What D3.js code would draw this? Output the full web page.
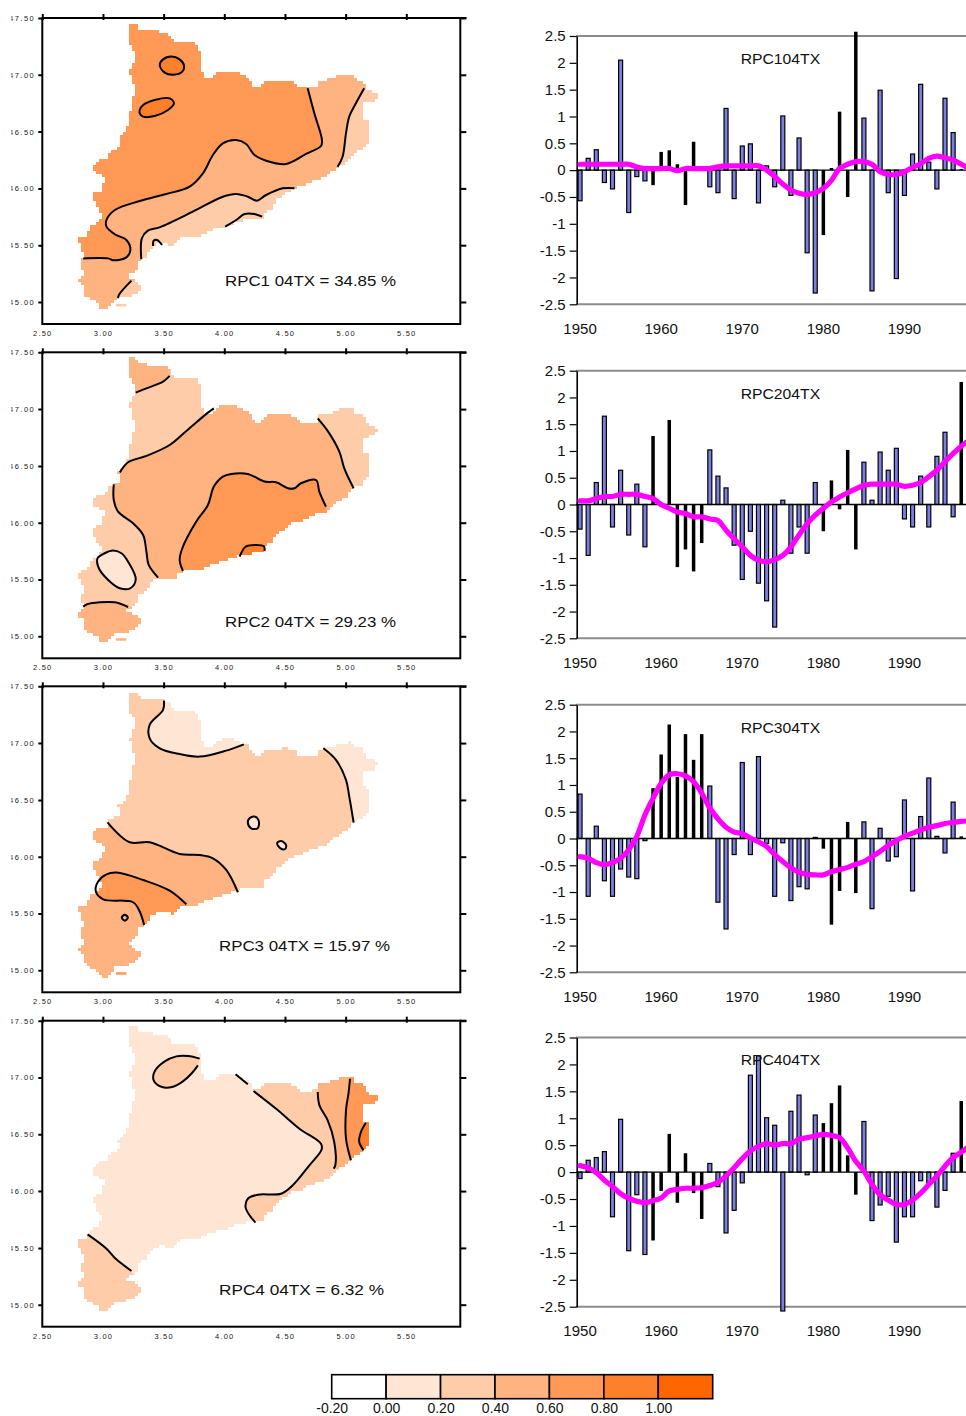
<!DOCTYPE html>
<html>
<head>
<meta charset="utf-8">
<script src="https://cdn.jsdelivr.net/npm/d3@7"></script>
<style>
  html, body { margin: 0; padding: 0; background: #fff; }
  svg { display: block; }
  text { font-family: "Liberation Sans", Arial, sans-serif; }
</style>
</head>
<body>
<div id="chart"></div>
<script>
// colour classes of the maps
const legendLevels = [-0.2, 0, 0.2, 0.4, 0.6, 0.8, 1.0, 1.2];
const levelColors = ['#ffffff', '#ffe5d4', '#ffcca9', '#ffb380', '#ff9955', '#ff802b', '#ff6600'];

// map outline, [lon, lat]
const outline = [[3.226,17.447],[3.270,17.447],[3.303,17.400],[3.385,17.389],[3.522,17.374],[3.555,17.342],[3.583,17.283],[3.755,17.283],[3.791,17.233],[3.807,17.145],[3.810,17.072],[3.829,16.969],[3.892,16.969],[3.934,17.007],[3.975,17.036],[4.071,17.036],[4.131,17.007],[4.194,16.978],[4.249,16.890],[4.290,16.890],[4.345,16.948],[4.509,16.954],[4.591,16.925],[4.619,16.881],[4.687,16.881],[4.770,16.890],[4.778,16.948],[4.866,16.960],[4.948,17.001],[5.052,17.007],[5.071,16.960],[5.153,16.954],[5.159,16.872],[5.249,16.843],[5.263,16.822],[5.244,16.764],[5.153,16.755],[5.140,16.617],[5.189,16.596],[5.200,16.529],[5.194,16.411],[5.140,16.338],[5.071,16.309],[5.003,16.221],[4.920,16.177],[4.852,16.103],[4.715,16.059],[4.646,16.015],[4.564,16.001],[4.482,15.927],[4.427,15.898],[4.400,15.825],[4.345,15.804],[4.317,15.737],[4.167,15.722],[4.043,15.678],[3.906,15.634],[3.796,15.581],[3.646,15.569],[3.577,15.493],[3.509,15.517],[3.454,15.511],[3.399,15.473],[3.358,15.399],[3.303,15.370],[3.276,15.282],[3.193,15.223],[3.262,15.194],[3.325,15.129],[3.262,15.062],[3.180,15.032],[3.111,15.032],[3.084,15.003],[3.043,14.944],[2.988,14.944],[2.947,15.003],[2.859,15.047],[2.837,15.150],[2.777,15.179],[2.837,15.238],[2.823,15.370],[2.851,15.399],[2.810,15.502],[2.796,15.569],[2.870,15.581],[2.892,15.663],[2.974,15.707],[2.988,15.781],[2.933,15.869],[2.919,15.957],[2.988,15.986],[3.015,16.103],[2.919,16.147],[2.914,16.206],[2.960,16.250],[3.043,16.265],[3.051,16.323],[3.139,16.367],[3.125,16.455],[3.193,16.514],[3.221,16.661],[3.262,16.866],[3.221,17.042],[3.276,17.174],[3.221,17.277],[3.207,17.365]];
const islet = [[3.106,14.983],[3.193,14.983],[3.193,14.961],[3.106,14.961]];

// RPC1 contours
const c1a = [[3.468,17.086],[3.495,17.136],[3.564,17.160],[3.632,17.136],[3.668,17.080],[3.654,17.028],[3.577,17.001],[3.509,17.019]];
const c1b = [[3.303,16.690],[3.331,16.734],[3.426,16.778],[3.550,16.793],[3.585,16.749],[3.536,16.690],[3.426,16.637],[3.331,16.632],[3.303,16.661]];
const c1c = [[2.837,15.384],[3.043,15.384],[3.084,15.367],[3.193,15.393],[3.226,15.458],[3.193,15.546],[3.098,15.596],[3.029,15.663],[3.029,15.722],[3.098,15.810],[3.303,15.889],[3.522,15.951],[3.714,16.015],[3.824,16.133],[3.906,16.294],[3.988,16.397],[4.098,16.426],[4.180,16.391],[4.249,16.294],[4.345,16.244],[4.509,16.215],[4.674,16.303],[4.797,16.373],[4.805,16.426],[4.742,16.661],[4.687,16.881]];
const c1d = [[3.316,15.376],[3.321,15.561],[3.370,15.628],[3.466,15.657],[3.741,15.795],[3.988,15.927],[4.098,15.951],[4.194,15.927],[4.268,15.892],[4.345,15.942],[4.482,16.001],[4.578,16.001]];
const c1e = [[4.934,16.191],[4.975,16.279],[5.003,16.485],[5.030,16.632],[5.085,16.749],[5.153,16.881]];
const c1f = [[4.007,15.663],[4.098,15.722],[4.167,15.775],[4.249,15.775],[4.312,15.751]];
const c1g = [[3.413,15.493],[3.418,15.540],[3.446,15.546],[3.487,15.502]];
const c1h = [[3.125,15.032],[3.131,15.062],[3.235,15.188]];

// RPC2 contours
const c2a = [[3.270,17.145],[3.358,17.183],[3.495,17.242],[3.550,17.292]];
const c2b = [[3.139,16.441],[3.207,16.532],[3.358,16.588],[3.550,16.684],[3.687,16.808],[3.865,16.969],[3.914,17.007]];
const c2c = [[3.089,16.338],[3.089,16.200],[3.125,16.097],[3.248,15.995],[3.331,15.892],[3.358,15.745],[3.377,15.628],[3.454,15.517]];
const c2d = [[2.837,15.261],[2.870,15.282],[2.974,15.299],[3.098,15.299],[3.207,15.258]];
const c2e = [[2.955,15.687],[2.988,15.716],[3.070,15.754],[3.152,15.731],[3.207,15.657],[3.270,15.502],[3.226,15.423],[3.139,15.423],[3.043,15.496],[2.966,15.599]];
const c2f = [[4.770,16.919],[4.852,16.808],[4.948,16.626],[4.989,16.479],[5.066,16.303]];
const c2g = [[3.659,15.575],[3.632,15.672],[3.654,15.775],[3.769,16.010],[3.865,16.156],[3.914,16.318],[3.988,16.406],[4.057,16.429],[4.194,16.429],[4.331,16.362],[4.427,16.356],[4.523,16.303],[4.578,16.303],[4.632,16.347],[4.756,16.376],[4.783,16.274],[4.838,16.142]];
const c2h = [[4.126,15.701],[4.153,15.760],[4.180,15.792],[4.326,15.792],[4.331,15.751]];

// RPC3 contours
const c3a = [[3.503,17.374],[3.495,17.292],[3.385,17.160],[3.385,17.042],[3.468,16.954],[3.632,16.904],[3.797,16.881],[4.016,16.934],[4.161,16.989]];
const c3b = [[4.816,16.954],[4.920,16.852],[5.003,16.676],[5.030,16.529],[5.066,16.300]];
const c3c = [[4.194,16.300],[4.208,16.338],[4.249,16.353],[4.282,16.323],[4.276,16.250],[4.221,16.250]];
const c3d = [[4.435,16.118],[4.468,16.139],[4.509,16.103],[4.501,16.068],[4.463,16.074]];
const c3e = [[3.037,16.303],[3.221,16.127],[3.385,16.127],[3.632,16.024],[3.797,16.015],[3.906,15.986],[4.016,15.883],[4.112,15.687]];
const c3f = [[3.687,15.581],[3.550,15.701],[3.331,15.795],[3.111,15.860],[3.029,15.845],[2.960,15.781],[2.941,15.693],[3.002,15.625],[3.248,15.599],[3.303,15.517],[3.339,15.399]];
const c3g = [[3.155,15.464],[3.180,15.490],[3.205,15.464],[3.180,15.437]];

// RPC4 contours
const c4a = [[3.797,17.166],[3.701,17.189],[3.605,17.186],[3.509,17.142],[3.426,17.054],[3.418,16.975],[3.487,16.916],[3.577,16.919],[3.659,16.966],[3.728,17.033],[3.783,17.107]];
const c4b = [[4.093,17.028],[4.194,16.940]];
const c4c = [[4.241,16.881],[4.427,16.725],[4.619,16.549],[4.797,16.417],[4.802,16.367],[4.701,16.227],[4.564,16.051],[4.468,15.977],[4.276,15.968],[4.194,15.933],[4.175,15.860],[4.208,15.787],[4.257,15.722]];
const c4d = [[4.770,16.872],[4.784,16.755],[4.852,16.623],[4.906,16.432],[4.915,16.227],[4.901,16.197]];
const c4e = [[5.036,16.989],[5.025,16.872],[5.003,16.711],[5.003,16.461],[5.025,16.344],[5.044,16.271]];
const c4f = [[5.167,16.602],[5.126,16.520],[5.112,16.432],[5.148,16.359]];
const c4g = [[2.873,15.619],[3.029,15.493],[3.098,15.411],[3.235,15.297]];

const mapTitles = ['RPC1 04TX = 34.85 %', 'RPC2 04TX = 29.23 %', 'RPC3 04TX = 15.97 %', 'RPC4 04TX = 6.32 %'];
const mapBase = [3, 3, 2, 1];
const isletLevel = [2, 3, 4, null];

// fills: level, contour, points that close it outside the outline
const mapRegions = [
  [
    { level: 4, line: c1c, tail: [[4.687,17.6],[2.5,17.6],[2.5,15.384]] },
    { level: 5, line: c1a, closed: true },
    { level: 5, line: c1b, closed: true },
    { level: 2, line: c1d, tail: [[4.6,15.3],[3.45,15.3]] },
    { level: 2, line: c1e, tail: [[5.4,16.881],[5.4,16.1],[4.934,16.1]] },
    { level: 2, line: c1h, tail: [[3.5,15.188],[3.5,15.0],[3.125,15.0]] }
  ],
  [
    { level: 2, line: c2b, tail: [[3.914,17.6],[2.5,17.6],[2.5,16.441]] },
    { level: 2, line: c2c, tail: [[3.454,15.2],[2.5,15.2],[2.5,16.45],[3.089,16.45]] },
    { level: 3, line: c2a, tail: [[3.55,17.6],[3.1,17.6],[3.1,17.145]] },
    { level: 3, line: c2d, tail: [[3.5,15.258],[3.5,14.9],[2.6,14.9],[2.6,15.261]] },
    { level: 1, line: c2e, closed: true },
    { level: 2, line: c2f, tail: [[5.4,16.303],[5.4,17.1],[4.77,17.1]] },
    { level: 4, line: c2g, tail: [[4.9,15.5],[3.659,15.4]] },
    { level: 5, line: c2h, tail: [[4.331,15.5],[4.126,15.5]] }
  ],
  [
    { level: 1, line: c3a, tail: [[4.161,17.6],[3.503,17.6]] },
    { level: 1, line: c3b, tail: [[5.4,16.3],[5.4,17.1],[4.816,17.1]] },
    { level: 1, line: c3c, closed: true },
    { level: 1, line: c3d, closed: true },
    { level: 3, line: c3e, tail: [[4.2,14.9],[2.5,14.9],[2.5,16.303]] },
    { level: 4, line: c3f, tail: [[3.6,15.3],[3.75,15.5]] }
  ],
  [
    { level: 2, line: c4c, tail: [[4.5,15.6],[5.4,15.6],[5.4,17.2],[4.241,17.2]] },
    { level: 3, line: c4d, tail: [[5.4,16.197],[5.4,17.2],[4.77,17.2]] },
    { level: 4, line: c4e, tail: [[5.4,16.271],[5.4,17.2],[5.036,17.2]] },
    { level: 5, line: c4f, tail: [[5.4,16.3],[5.4,16.602]] },
    { level: 2, line: c4a, tail: [] },
    { level: 2, line: c4g, tail: [[3.5,14.9],[2.6,14.9],[2.6,15.619]] }
  ]
];

// contour lines of each map
const mapLines = [
  [{ pts: c1a, closed: true }, { pts: c1b, closed: true }, { pts: c1c }, { pts: c1d }, { pts: c1e }, { pts: c1f }, { pts: c1g }, { pts: c1h }],
  [{ pts: c2a }, { pts: c2b }, { pts: c2c }, { pts: c2d }, { pts: c2e, closed: true }, { pts: c2f }, { pts: c2g }, { pts: c2h }],
  [{ pts: c3a }, { pts: c3b }, { pts: c3c, closed: true }, { pts: c3d, closed: true }, { pts: c3e }, { pts: c3f }, { pts: c3g, closed: true }],
  [{ pts: c4a }, { pts: c4b }, { pts: c4c }, { pts: c4d }, { pts: c4e }, { pts: c4f }, { pts: c4g }]
];

const lonTicks = [2.5, 3, 3.5, 4, 4.5, 5, 5.5];
const latTicks = [15, 15.5, 16, 16.5, 17, 17.5];

// time series
const barYears = d3.range(1950, 1998);
const lineYears = d3.range(1950, 1999);
const darkYears = [1959, 1960, 1961, 1962, 1963, 1964, 1965, 1980, 1981, 1982, 1983, 1984, 1997];
const yearTicks = [1950, 1960, 1970, 1980, 1990];
const valueTicks = [-2.5, -2, -1.5, -1, -0.5, 0, 0.5, 1, 1.5, 2, 2.5];
const seriesTitles = ['RPC104TX', 'RPC204TX', 'RPC304TX', 'RPC404TX'];

const rpc1Bars = [-0.57,0.22,0.38,-0.23,-0.35,2.05,-0.79,-0.12,-0.2,-0.28,0.34,0.37,0.11,-0.65,0.53,0.02,-0.31,-0.42,1.15,-0.53,0.45,0.49,-0.61,0.08,-0.31,1.01,-0.47,0.6,-1.54,-2.29,-1.21,0.04,1.09,-0.5,2.58,0.97,-2.25,1.49,-0.42,-2.02,-0.47,0.3,1.6,0.15,-0.35,1.34,0.7,0.02];
const rpc2Bars = [-0.46,-0.95,0.41,1.65,-0.42,0.64,-0.57,0.38,-0.79,1.28,-0.04,1.58,-1.17,-0.84,-1.25,-0.72,1.02,0.53,0.31,-0.76,-1.4,-0.5,-1.47,-1.8,-2.29,0.08,-0.91,-0.42,-0.91,0.41,-0.5,0.45,-0.09,1.02,-0.84,0.79,0.08,0.98,0.64,1.05,-0.27,-0.42,0.53,-0.42,0.9,1.35,-0.23,2.29];
const rpc3Bars = [0.83,-1.08,0.23,-0.79,-1.08,-0.57,-0.72,-0.75,-0.04,0.94,1.57,2.13,1.15,1.95,1.47,1.95,0.98,-1.19,-1.69,-0.3,1.42,-0.3,1.53,-0.09,-1.08,-0.08,-1.16,-0.9,-0.94,0.02,-0.19,-1.61,-0.98,0.31,-1.02,0.31,-1.31,0.19,-0.42,-0.34,0.72,-0.98,0.41,1.13,0.04,-0.27,0.68,0.04];
const rpc4Bars = [-0.12,0.22,0.27,0.38,-0.83,0.98,-1.46,-0.42,-1.53,-1.27,-0.35,0.71,-0.57,0.35,-0.39,-0.87,0.16,-0.27,-1.13,-0.71,-0.2,1.8,2.16,1.01,0.87,-2.58,1.13,1.43,-0.05,1.06,0.91,1.28,1.61,0.31,-0.42,0.94,-0.9,-0.61,-0.45,-1.3,-0.83,-0.83,-0.16,-0.2,-0.65,-0.34,0.35,1.32];

const rpc1Smooth = [0.11,0.11,0.11,0.11,0.11,0.11,0.11,0.06,0.03,0.03,0.03,0.03,-0.01,0.03,0.03,0.03,0.03,0.06,0.08,0.08,0.08,0.08,0.08,0,-0.12,-0.26,-0.37,-0.43,-0.45,-0.42,-0.34,-0.19,0.03,0.11,0.16,0.16,0.11,-0.03,-0.08,-0.08,-0.03,0.05,0.12,0.22,0.26,0.23,0.19,0.11,0.03];
const rpc2Smooth = [0.07,0.07,0.11,0.15,0.15,0.19,0.19,0.19,0.15,0.11,0,-0.07,-0.14,-0.17,-0.23,-0.23,-0.27,-0.3,-0.48,-0.64,-0.79,-0.95,-1.04,-1.07,-1.03,-0.95,-0.79,-0.57,-0.36,-0.2,-0.07,0.05,0.14,0.22,0.29,0.36,0.38,0.38,0.38,0.38,0.34,0.36,0.41,0.52,0.64,0.8,0.95,1.09,1.2];
const rpc3Smooth = [-0.34,-0.37,-0.45,-0.49,-0.45,-0.37,-0.21,0.04,0.44,0.75,1.03,1.19,1.21,1.17,1.06,0.85,0.57,0.37,0.21,0.12,0.09,0.01,-0.06,-0.15,-0.3,-0.43,-0.55,-0.63,-0.67,-0.68,-0.68,-0.62,-0.58,-0.54,-0.48,-0.43,-0.34,-0.24,-0.13,-0.04,0.04,0.1,0.16,0.21,0.24,0.28,0.3,0.32,0.33];
const rpc4Smooth = [0.12,0.08,-0.01,-0.15,-0.27,-0.4,-0.49,-0.54,-0.57,-0.53,-0.48,-0.35,-0.32,-0.3,-0.3,-0.29,-0.25,-0.19,-0.07,0.08,0.25,0.39,0.48,0.53,0.5,0.53,0.53,0.61,0.64,0.67,0.7,0.68,0.64,0.45,0.2,0.02,-0.23,-0.42,-0.52,-0.6,-0.6,-0.52,-0.39,-0.23,-0.07,0.11,0.27,0.37,0.48];

const allBars = [rpc1Bars, rpc2Bars, rpc3Bars, rpc4Bars];
const allSmooth = [rpc1Smooth, rpc2Smooth, rpc3Smooth, rpc4Smooth];

// layout
const width = 966, height = 1416;
const mapTops = [18, 352.3, 686.3, 1020.7];
const mapHeight = 306;
const mapTitleX = [225, 225, 219, 219];
const mapTitleW = [171, 171, 171, 165];
const mapTitleY = [286, 627, 951, 1295];
const seriesTop = [36, 370.7, 704.7, 1037.5];
const seriesBottom = [304.3, 638.3, 972.3, 1306.7];
const seriesTitleY = [63.5, 398.5, 732.5, 1065];

const svg = d3.select('#chart')
  .append('svg')
  .attr('width', width)
  .attr('height', height)
  .attr('viewBox', `0 0 ${width} ${height}`);

const defs = svg.append('defs');

// the first digit of the latitude labels is cut off in the picture
defs.append('clipPath')
  .attr('id', 'label-clip')
  .append('rect')
  .attr('x', -31)
  .attr('y', 0)
  .attr('width', 31)
  .attr('height', height);

// outline drawn on the grid of the map, so its edge comes out blocky
function stairPath(points, x, y, step) {
  const px = points.map(p => [x(p[0]), y(p[1])]);
  let last = null;
  let d = '';
  px.forEach((a, k) => {
    const b = px[(k + 1) % px.length];
    const n = Math.ceil(Math.hypot(b[0] - a[0], b[1] - a[1]));
    d3.range(n).forEach(t => {
      const qx = Math.round((a[0] + (b[0] - a[0]) * t / n) / step) * step;
      const qy = Math.round((a[1] + (b[1] - a[1]) * t / n) / step) * step;
      if (!last) {
        d += `M${qx},${qy}`;
      } else if (qx !== last[0] || qy !== last[1]) {
        d += `L${qx},${last[1]}L${qx},${qy}`;
      }
      last = [qx, qy];
    });
  });
  return d + 'Z';
}

function drawMap(i) {
  const top = mapTops[i];
  const x = d3.scaleLinear().domain([2.5, 5.5]).range([42.3, 406.3]);
  const y = d3.scaleLinear().domain([15, 17.5]).range([top + 284, top]);
  const openLine = d3.line().x(d => x(d[0])).y(d => y(d[1])).curve(d3.curveCatmullRom.alpha(0.5));
  const closedLine = d3.line().x(d => x(d[0])).y(d => y(d[1])).curve(d3.curveCatmullRomClosed.alpha(0.5));
  const straight = d3.line().x(d => x(d[0])).y(d => y(d[1]));
  const shape = stairPath(outline, x, y, 3);

  const g = svg.append('g');

  defs.append('clipPath')
    .attr('id', `outline-${i}`)
    .append('path')
    .attr('d', shape);

  g.append('path')
    .attr('d', shape)
    .attr('fill', levelColors[mapBase[i]]);

  const fills = g.append('g').attr('clip-path', `url(#outline-${i})`);
  fills.selectAll('path')
    .data(mapRegions[i])
    .join('path')
    .attr('fill', d => levelColors[d.level])
    .attr('d', d => {
      if (d.closed) return closedLine(d.line);
      const tail = d.tail.map(p => `L${x(p[0])},${y(p[1])}`).join('');
      return openLine(d.line) + tail + 'Z';
    });

  if (isletLevel[i] !== null) {
    g.append('path')
      .attr('d', straight(islet) + 'Z')
      .attr('fill', levelColors[isletLevel[i]]);
  }

  g.append('g').selectAll('path')
    .data(mapLines[i])
    .join('path')
    .attr('fill', 'none')
    .attr('stroke', '#000')
    .attr('stroke-width', 2)
    .attr('stroke-linejoin', 'round')
    .attr('d', d => d.closed ? closedLine(d.pts) : openLine(d.pts));

  // frame
  g.append('rect')
    .attr('x', 42.3)
    .attr('y', top)
    .attr('width', 418)
    .attr('height', mapHeight)
    .attr('fill', 'none')
    .attr('stroke', '#000')
    .attr('stroke-width', 2);
  g.append('line')
    .attr('x1', 460)
    .attr('x2', 466.5)
    .attr('y1', top)
    .attr('y2', top)
    .attr('stroke', '#000')
    .attr('stroke-width', 2);

  const topAxis = g.append('g')
    .attr('transform', `translate(0,${top})`)
    .call(d3.axisTop(x).tickValues(lonTicks).tickSize(4).tickFormat(''));
  topAxis.select('.domain').remove();
  topAxis.selectAll('.tick line').attr('y1', 2).attr('stroke-width', 2);

  const bottomAxis = g.append('g')
    .attr('transform', `translate(0,${top + mapHeight})`)
    .call(d3.axisBottom(x).tickValues(lonTicks).tickSize(0).tickPadding(6.5).tickFormat(d3.format('.2f')));
  bottomAxis.select('.domain').remove();
  bottomAxis.selectAll('text')
    .attr('font-size', 7.5)
    .attr('letter-spacing', 1.2)
    .attr('fill', '#222');

  const leftAxis = g.append('g')
    .attr('transform', 'translate(42.3,0)')
    .attr('clip-path', 'url(#label-clip)')
    .call(d3.axisLeft(y).tickValues(latTicks).tickSize(4).tickPadding(3).tickFormat(d => '4' + d3.format('.2f')(d - 10)));
  leftAxis.select('.domain').remove();
  leftAxis.selectAll('.tick line').attr('stroke-width', 2);
  leftAxis.selectAll('text')
    .attr('font-size', 7.5)
    .attr('letter-spacing', 1.5)
    .attr('fill', '#222');

  const rightAxis = g.append('g')
    .attr('transform', 'translate(460.3,0)')
    .call(d3.axisRight(y).tickValues(latTicks).tickSize(6).tickFormat(''));
  rightAxis.select('.domain').remove();
  rightAxis.selectAll('.tick line').attr('stroke-width', 2);

  g.append('text')
    .attr('x', mapTitleX[i])
    .attr('y', mapTitleY[i])
    .attr('font-size', 15.5)
    .attr('textLength', mapTitleW[i])
    .attr('lengthAdjust', 'spacingAndGlyphs')
    .attr('fill', '#111')
    .text(mapTitles[i]);
}

function drawSeries(i) {
  const top = seriesTop[i], bottom = seriesBottom[i];
  const x = d3.scaleBand().domain(lineYears).range([576, 576 + lineYears.length * 8.11]);
  const y = d3.scaleLinear().domain([-2.5, 2.5]).range([bottom, top]);
  const center = yr => x(yr) + x.bandwidth() / 2;

  const g = svg.append('g');

  g.selectAll('line.edge')
    .data([2.5, -2.5])
    .join('line')
    .attr('class', 'edge')
    .attr('x1', 576)
    .attr('x2', width)
    .attr('y1', d => y(d))
    .attr('y2', d => y(d))
    .attr('stroke', '#8c8c8c')
    .attr('stroke-width', 2);

  const bars = barYears.map((yr, k) => ({ yr, v: allBars[i][k], dark: darkYears.includes(yr) }));
  g.selectAll('rect')
    .data(bars)
    .join('rect')
    .attr('x', d => center(d.yr) - (d.dark ? 1.75 : 2))
    .attr('width', d => d.dark ? 3.5 : 4)
    .attr('y', d => y(Math.max(d.v, 0)))
    .attr('height', d => Math.abs(y(d.v) - y(0)))
    .attr('fill', d => d.dark ? '#000' : '#7c7fe0')
    .attr('stroke', d => d.dark ? 'none' : '#000')
    .attr('stroke-width', 1.2);

  g.append('line')
    .attr('x1', 576)
    .attr('x2', width)
    .attr('y1', y(0))
    .attr('y2', y(0))
    .attr('stroke', '#000')
    .attr('stroke-width', 1.4);

  const yAxis = g.append('g')
    .attr('transform', 'translate(576.7,0)')
    .call(d3.axisLeft(y).tickValues(valueTicks).tickSize(7).tickSizeOuter(0).tickPadding(4).tickFormat(String));
  yAxis.select('.domain').attr('stroke-width', 1.6);
  yAxis.selectAll('.tick line').attr('stroke-width', 1.2);
  yAxis.selectAll('text').attr('font-size', 15).attr('fill', '#111');

  const xAxis = g.append('g')
    .attr('transform', `translate(0,${bottom})`)
    .call(d3.axisBottom(x).tickValues(yearTicks).tickSize(0).tickPadding(19));
  xAxis.select('.domain').remove();
  xAxis.selectAll('text').attr('font-size', 15).attr('fill', '#111');

  g.append('path')
    .datum(lineYears.map((yr, k) => [yr, allSmooth[i][k]]))
    .attr('fill', 'none')
    .attr('stroke', '#ff00ff')
    .attr('stroke-width', 5.2)
    .attr('stroke-linecap', 'round')
    .attr('d', d3.line().x(d => center(d[0])).y(d => y(d[1])).curve(d3.curveCatmullRom.alpha(0.5)));

  g.append('text')
    .attr('x', 740.7)
    .attr('y', seriesTitleY[i])
    .attr('font-size', 15.5)
    .attr('textLength', 79.5)
    .attr('lengthAdjust', 'spacingAndGlyphs')
    .attr('fill', '#111')
    .text(seriesTitles[i]);
}

function drawLegend() {
  const x = d3.scaleLinear().domain([-0.2, 1.2]).range([331.7, 712.7]);
  const g = svg.append('g');
  const cells = levelColors.map((c, k) => ({ c, a: legendLevels[k], b: legendLevels[k + 1] }));

  g.selectAll('rect')
    .data(cells)
    .join('rect')
    .attr('x', d => x(d.a))
    .attr('y', 1374.7)
    .attr('width', d => x(d.b) - x(d.a))
    .attr('height', 24)
    .attr('fill', d => d.c)
    .attr('stroke', '#000')
    .attr('stroke-width', 1.6);

  const axis = g.append('g')
    .attr('transform', 'translate(0,1398.7)')
    .call(d3.axisBottom(x).tickValues(legendLevels.slice(0, -1)).tickSize(0).tickPadding(4).tickFormat(d => d.toFixed(2)));
  axis.select('.domain').remove();
  axis.selectAll('text').attr('font-size', 14).attr('fill', '#111');
}

d3.range(4).forEach(i => {
  drawMap(i);
  drawSeries(i);
});
drawLegend();
</script>
</body>
</html>
